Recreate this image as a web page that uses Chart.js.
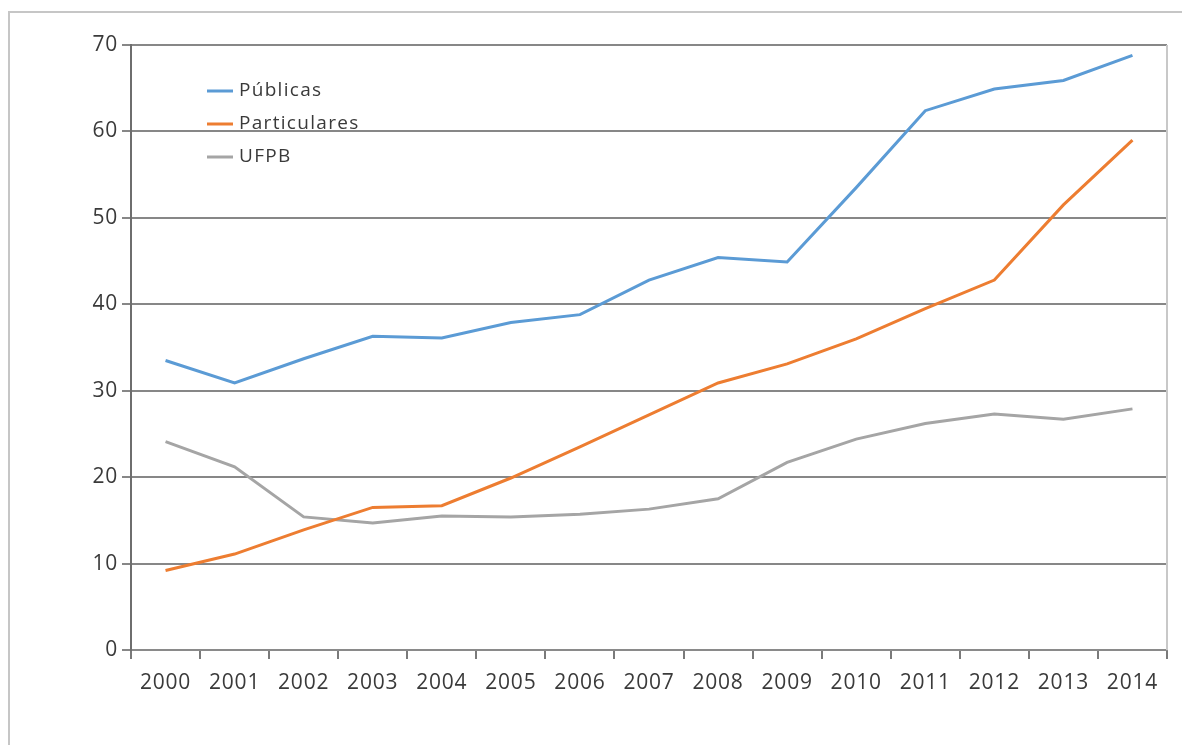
<!DOCTYPE html>
<html><head><meta charset="utf-8">
<script src="https://cdn.jsdelivr.net/npm/chart.js@4.4.1/dist/chart.umd.min.js"></script>
<style>
html,body{margin:0;padding:0;background:#fff;}
#wrap{position:relative;width:1182px;height:745px;overflow:hidden;background:#fff;}
#frame{position:absolute;left:8px;top:11px;width:1300px;height:800px;border-left:2px solid #c6c6c6;border-top:2px solid #c6c6c6;}
#c{position:absolute;left:0;top:0;}
</style></head><body>
<div id="wrap"><div id="frame"></div><canvas id="c" width="1182" height="745" style="width:1182px;height:745px"></canvas></div>
<script>
const categories = ['2000','2001','2002','2003','2004','2005','2006','2007','2008','2009','2010','2011','2012','2013','2014'];
const seriesNames = ['Públicas','Particulares','UFPB'];
const publicas = [33.5, 30.9, 33.7, 36.3, 36.1, 37.9, 38.8, 42.8, 45.4, 44.9, 53.5, 62.4, 64.9, 65.9, 68.8];
const particulares = [9.2, 11.1, 13.9, 16.5, 16.7, 19.9, 23.5, 27.2, 30.9, 33.1, 36.0, 39.5, 42.8, 51.5, 59.0];
const ufpb = [24.1, 21.2, 15.4, 14.7, 15.5, 15.4, 15.7, 16.3, 17.5, 21.7, 24.4, 26.2, 27.3, 26.7, 27.9];
const yMin = 0, yMax = 70, yStep = 10;

const colors = ['#5b9bd5','#ed7d31','#a5a5a5'];
const FONT = "'Open Sans', sans-serif";
const SPACING = '0.8px';

const spacingPlugin = {
  id: 'spacing',
  beforeLayout(chart){ chart.ctx.letterSpacing = SPACING; },
  beforeDraw(chart){ chart.ctx.letterSpacing = SPACING; }
};

const framePlugin = {
  id: 'frameLines',
  afterDraw(chart){
    const {ctx, chartArea:a} = chart;
    ctx.save();
    ctx.strokeStyle = '#c8c8c8';
    ctx.lineWidth = 2;
    ctx.beginPath();
    ctx.moveTo(a.right, a.top);
    ctx.lineTo(a.right, a.bottom);
    ctx.stroke();
    ctx.restore();
  }
};

const legendPlugin = {
  id: 'innerLegend',
  afterDraw(chart){
    const {ctx, chartArea:a} = chart;
    ctx.save();
    ctx.letterSpacing = '1.3px';
    ctx.font = "19px " + FONT;
    ctx.textBaseline = 'middle';
    ctx.textAlign = 'left';
    chart.data.datasets.forEach((ds, i) => {
      const y = a.top + 46 + i * 33;
      ctx.strokeStyle = ds.borderColor;
      ctx.lineWidth = 3;
      ctx.beginPath();
      ctx.moveTo(a.left + 76, y);
      ctx.lineTo(a.left + 102, y);
      ctx.stroke();
      ctx.fillStyle = '#3a3a3a';
      ctx.fillText(ds.label, a.left + 108, y);
    });
    ctx.restore();
  }
};

const values = [publicas, particulares, ufpb];
new Chart(document.getElementById('c'), {
  type: 'line',
  data: {
    labels: categories,
    datasets: seriesNames.map((name, i) => ({
      label: name,
      data: values[i],
      borderColor: colors[i],
      backgroundColor: colors[i],
      borderWidth: 3,
      pointRadius: 0,
      tension: 0,
      fill: false
    }))
  },
  options: {
    responsive: false,
    animation: false,
    devicePixelRatio: 1,
    layout: { padding: { left: 0, top: 45, right: 15, bottom: 0 } },
    plugins: { legend: { display: false }, tooltip: { enabled: false } },
    scales: {
      x: {
        offset: true,
        grid: { offset: true, drawOnChartArea: false, drawTicks: true, tickLength: 9, color: '#7a7a7a', lineWidth: 2 },
        border: { display: true, color: '#8a8a8a', width: 2 },
        ticks: { color: '#3a3a3a', font: { family: FONT, size: 21 }, padding: 11, maxRotation: 0, autoSkip: false },
        afterFit(scale){ scale.height = 95; }
      },
      y: {
        min: yMin, max: yMax,
        grid: { color: '#878787', lineWidth: 2, tickLength: 9, drawTicks: true },
        border: { display: true, color: '#6e6e6e', width: 2 },
        ticks: { stepSize: yStep, color: '#3a3a3a', font: { family: FONT, size: 21 }, padding: 4 },
        afterFit(scale){ scale.width = 131; }
      }
    }
  },
  plugins: [spacingPlugin, framePlugin, legendPlugin]
});
</script>
</body></html>
